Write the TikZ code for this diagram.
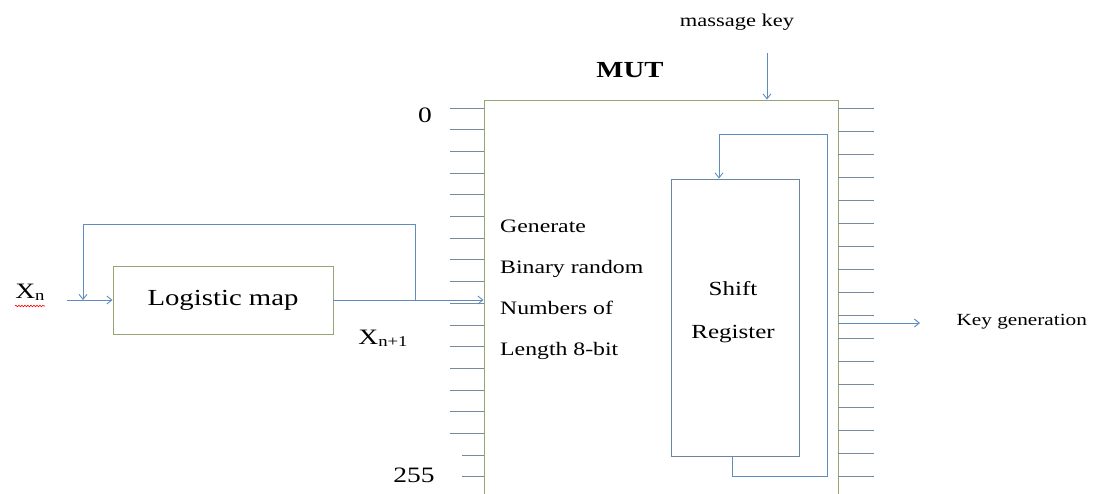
\documentclass[tikz,border=0pt]{standalone}
\usepackage{fontspec}
\setmainfont{Liberation Serif}[FakeStretch=1.25]
\usetikzlibrary{decorations.pathmorphing,arrows.meta}
\definecolor{wireblue}{RGB}{95,140,190}
\definecolor{boxolive}{RGB}{150,165,115}
\definecolor{tickgray}{RGB}{120,138,158}
\definecolor{regblue}{RGB}{105,135,165}
\newcommand{\fsz}[1]{\fontsize{#1}{#1}\selectfont}

\begin{document}
\begin{tikzpicture}[x=1pt,y=-1pt,
  wire/.style={draw=wireblue,line width=0.9pt,-{Straight Barb[length=5pt,width=8pt]}},
  olivebox/.style={draw=boxolive,line width=0.9pt,inner sep=0pt},
  regbox/.style={draw=regblue,line width=0.9pt,inner sep=0pt},
  pin/.style={draw=tickgray,line width=0.9pt}]
\useasboundingbox[fill=white] (0,0) rectangle (1093,493);

\node[olivebox,minimum width=220pt,minimum height=68pt] (logmap) at (223,300) {\fsz{23}Logistic map};
\node[olivebox,minimum width=354pt,minimum height=405pt] (mut) at (661,302.5) {};
\node[regbox,minimum width=128pt,minimum height=277pt] (sr) at (735,317.5) {};
\node[align=center,font=\fontsize{20}{43}\selectfont] (srtext) at (733,312) {Shift\\Register};

% pins of the MUT
\foreach \i in {0,...,15}
  \draw[pin] (450,108+\i*21.7) -- (484,108+\i*21.7);
\foreach \i in {16,17}
  \draw[pin] (462,108+\i*21.7) -- (484,108+\i*21.7);
\foreach \i in {0,...,16}
  \draw[pin] (838,108+\i*23) -- (874,108+\i*23);

\node (mutlabel) at (630,70) {\fsz{23}\bfseries MUT};
\node (zero) at (425,115) {\fsz{22}0};
\node (last) at (414,475) {\fsz{22}255};
\node[align=left,anchor=west,inner sep=0pt,font=\fontsize{19}{41}\selectfont] (gen) at (500,290)
  {Generate\\Binary random\\Numbers of\\Length 8-bit};
\node (mkey) at (737,22) {\fsz{18}massage key};
\node[anchor=west] (keygen) at (953,322) {\fsz{17}Key generation};
\node (xn) at (30,292) {\fsz{22}X\raisebox{-0.2ex}{\fsz{15}n}};
\node (xnext) at (383,338) {\fsz{22}X\raisebox{-0.2ex}{\fsz{15}n+1}};
\draw[red,line width=0.6pt,decorate,decoration={snake,segment length=3pt,amplitude=0.8pt}]
  (15,306) -- (45,306);

\coordinate (xin) at (67,300);
\coordinate (fb) at (415,300);
\coordinate (fbtop) at (83,224);
\coordinate (keyin) at (767,53);
\coordinate (srloop) at (827,134);
\coordinate (keyout) at (920,323);

\draw[wire] (xin) -- (xin -| logmap.west);
\draw[wire] (logmap.east) -- (logmap.east -| mut.west);
\draw[wire] (fb) |- (fbtop) -- (fbtop |- xin);
\draw[wire] (keyin) -- (keyin |- mut.north);
\draw[wire] ([xshift=-3pt]sr.south) -- ++(0,20) -| (srloop) -| ([xshift=-16pt]sr.north);
\draw[wire] (mut.east |- keyout) -- (keyout);
\end{tikzpicture}
\end{document}
